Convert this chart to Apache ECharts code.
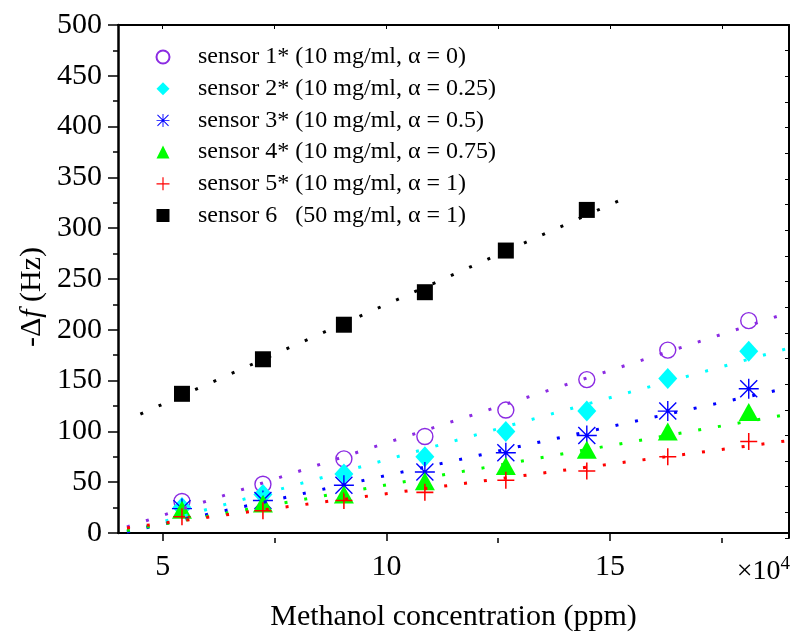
<!DOCTYPE html>
<html>
<head>
<meta charset="utf-8">
<script src="https://cdn.jsdelivr.net/npm/echarts@6/dist/echarts.min.js"></script>
<style>
  html, body { margin: 0; padding: 0; background: #fff; }
  #chart { width: 792px; height: 637px; }
</style>
</head>
<body>
<div id="chart"></div>
<script>
// Methanol concentration (×10^4 ppm)
const concentration = [5.43, 7.24, 9.05, 10.86, 12.67, 14.48, 16.29, 18.1];

// Frequency shift -Δf (Hz) for each sensor
const sensor1 = [31, 48, 73, 95, 121, 151, 180, 209];
const sensor2 = [25, 38, 58, 75, 100, 120, 152, 179];
const sensor3 = [24, 32, 47, 60, 79, 96, 120, 142];
const sensor4 = [23, 29, 38, 51, 66, 82, 100, 119];
const sensor5 = [16, 22, 32, 40, 52, 61, 75, 90];
const sensor6 = [137, 171, 205, 237, 278, 318];

// Linear fit end points (x in ×10^4 ppm, y in Hz)
const fitX = [4.2, 19];
const fit1 = [6, 217];
const fit2 = [1.3, 182];
const fit3 = [1, 143];
const fit4 = [2.5, 117];
const fit5 = [5, 91];
const fit6X = [4.5, 15.5];
const fit6 = [117, 333];

// Axis ticks
const xMajorTicks = [5, 10, 15];
const xMinorTicks = [7.5, 12.5, 17.5];
const xAllTicks = [5, 7.5, 10, 12.5, 15, 17.5];

const names = [
  'sensor 1* (10 mg/ml, α = 0)',
  'sensor 2* (10 mg/ml, α = 0.25)',
  'sensor 3* (10 mg/ml, α = 0.5)',
  'sensor 4* (10 mg/ml, α = 0.75)',
  'sensor 5* (10 mg/ml, α = 1)',
  'sensor 6   (50 mg/ml, α = 1)'
];

const colors = ['#8B2BE2', '#00FFFF', '#0000FF', '#00FF00', '#FF0000', '#000000'];

const FONT = '"Liberation Serif", "Times New Roman", serif';

const asteriskPath = 'path://M9.3 0H10.7V20H9.3Z M0 9.3H20V10.7H0Z ' +
  'M1.01 1.99L1.99 1.01L18.99 18.01L18.01 18.99Z ' +
  'M18.01 1.01L18.99 1.99L1.99 18.99L1.01 18.01Z';
const plusPath = 'path://M9.1 0H10.9V20H9.1Z M0 9.1H20V10.9H0Z';

function pairs(xs, ys) {
  return ys.map((y, i) => [xs[i], y]);
}

const markerDefs = [
  { data: sensor1, symbol: 'circle', size: 16, style: { color: 'rgba(0,0,0,0)', borderColor: colors[0], borderWidth: 1.4 } },
  { data: sensor2, symbol: 'diamond', size: [19, 21], style: { color: colors[1] } },
  { data: sensor3, symbol: asteriskPath, size: 20, style: { color: colors[2] } },
  { data: sensor4, symbol: 'triangle', size: [20, 18], style: { color: colors[3] } },
  { data: sensor5, symbol: plusPath, size: 17, style: { color: colors[4] } },
  { data: sensor6, symbol: 'rect', size: 16, style: { color: colors[5] } }
];

const fits = [
  [fitX, fit1], [fitX, fit2], [fitX, fit3], [fitX, fit4], [fitX, fit5], [fit6X, fit6]
];

const series = [];
markerDefs.forEach((m, i) => {
  series.push({
    name: names[i],
    type: 'scatter',
    xAxisIndex: 0,
    yAxisIndex: 0,
    symbol: m.symbol,
    symbolSize: m.size,
    itemStyle: Object.assign({ opacity: 1 }, m.style),
    emphasis: { disabled: true },
    data: pairs(concentration, m.data),
    z: 2
  });
});
fits.forEach((f, i) => {
  series.push({
    name: 'fit ' + (i + 1),
    type: 'line',
    xAxisIndex: 0,
    yAxisIndex: 0,
    showSymbol: false,
    symbol: 'none',
    silent: true,
    lineStyle: { color: colors[i], width: 3, type: [3, 17], cap: 'butt' },
    data: pairs(f[0], f[1]),
    z: 3
  });
});

const gridBox = { left: 118, right: 3, top: 25, bottom: 99, containLabel: false };

const chart = echarts.init(document.getElementById('chart'), null, { renderer: 'canvas' });
chart.setOption({
  animation: false,
  backgroundColor: '#fff',
  grid: [Object.assign({}, gridBox), Object.assign({}, gridBox), Object.assign({}, gridBox)],
  xAxis: [
    {
      gridIndex: 0, type: 'value', position: 'bottom', min: 4, max: 19,
      axisLine: { show: true, onZero: false, lineStyle: { color: '#000', width: 2 } },
      axisTick: { show: true, inside: false, length: 8, customValues: xMajorTicks, lineStyle: { color: '#000', width: 1.5 } },
      axisLabel: { show: true, customValues: xMajorTicks, margin: 19, color: '#000', fontFamily: FONT, fontSize: 30 },
      splitLine: { show: false },
      name: 'Methanol concentration (ppm)',
      nameLocation: 'middle',
      nameGap: 69,
      nameTextStyle: { color: '#000', fontFamily: FONT, fontSize: 30 }
    },
    {
      gridIndex: 1, type: 'value', position: 'bottom', min: 4, max: 19,
      axisLine: { show: false },
      axisTick: { show: true, inside: false, length: 5, customValues: xMinorTicks, lineStyle: { color: '#000', width: 1.5 } },
      axisLabel: { show: false },
      splitLine: { show: false }
    },
    {
      gridIndex: 2, type: 'value', position: 'top', min: 4, max: 19,
      axisLine: { show: true, onZero: false, lineStyle: { color: '#000', width: 2 } },
      axisTick: { show: true, inside: true, length: 4, customValues: xAllTicks, lineStyle: { color: '#000', width: 1 } },
      axisLabel: { show: false },
      splitLine: { show: false }
    }
  ],
  yAxis: [
    {
      gridIndex: 0, type: 'value', position: 'left', min: 0, max: 500, interval: 50,
      axisLine: { show: true, onZero: false, lineStyle: { color: '#000', width: 2.5 } },
      axisTick: { show: true, inside: false, length: 10, lineStyle: { color: '#000', width: 1.5 } },
      minorTick: { show: true, splitNumber: 2, length: 5, lineStyle: { color: '#000', width: 1.5 } },
      axisLabel: { show: true, margin: 16, color: '#000', fontFamily: FONT, fontSize: 30 },
      splitLine: { show: false }
    },
    {
      gridIndex: 1, type: 'value', position: 'right', min: 0, max: 500, interval: 25,
      axisLine: { show: true, onZero: false, lineStyle: { color: '#000', width: 2 } },
      axisTick: { show: true, inside: true, length: 4, lineStyle: { color: '#000', width: 1 } },
      axisLabel: { show: false },
      splitLine: { show: false }
    },
    {
      gridIndex: 2, type: 'value', show: false, min: 0, max: 500,
      splitLine: { show: false }
    }
  ],
  legend: {
    data: names,
    orient: 'vertical',
    left: 155.5,
    top: 45,
    padding: 0,
    itemWidth: 13,
    itemHeight: 13,
    itemGap: 7.7,
    selectedMode: false,
    formatter: function (n) { return '{gap|}' + n; },
    textStyle: {
      color: '#000', fontFamily: FONT, fontSize: 24, lineHeight: 24,
      rich: { gap: { width: 23.5 } }
    }
  },
  graphic: [
    {
      type: 'text',
      x: 32, y: 297,
      rotation: Math.PI / 2,
      silent: true,
      style: {
        text: '-Δ{i|f} (Hz)',
        fill: '#000',
        fontFamily: FONT,
        fontSize: 30,
        align: 'center',
        verticalAlign: 'middle',
        rich: { i: { fontStyle: 'italic', fontFamily: FONT, fontSize: 30 } }
      }
    },
    {
      type: 'text',
      x: 790, y: 572,
      silent: true,
      style: {
        text: '×10{s|4}',
        fill: '#000',
        fontFamily: FONT,
        fontSize: 28,
        lineHeight: 34,
        align: 'right',
        verticalAlign: 'middle',
        rich: { s: { fontFamily: FONT, fontSize: 19, verticalAlign: 'top', lineHeight: 34 } }
      }
    }
  ],
  series: series
});
</script>
</body>
</html>
